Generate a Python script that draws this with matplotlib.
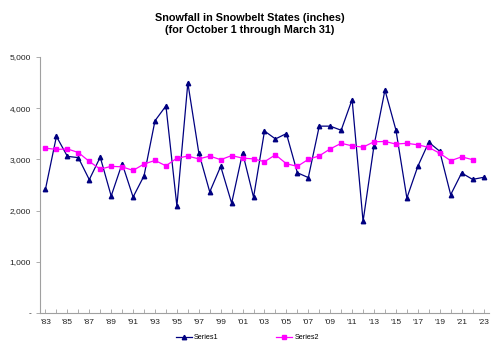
import matplotlib.pyplot as plt
from matplotlib.ticker import FuncFormatter, MultipleLocator

# data
years = list(range(1983, 2024))
series1 = [2420, 3450, 3060, 3035, 2605, 3045, 2285, 2920, 2265, 2680,
           3755, 4045, 2090, 4495, 3130, 2365, 2865, 2145, 3130, 2260,
           3555, 3400, 3505, 2740, 2645, 3650, 3650, 3570, 4170, 1790,
           3270, 4355, 3575, 2245, 2865, 3335, 3160, 2310, 2735, 2610,
           2650]
years2 = list(range(1983, 2023))
series2 = [3220, 3195, 3205, 3135, 2960, 2810, 2865, 2855, 2785, 2910,
           2980, 2875, 3025, 3065, 3010, 3065, 2995, 3075, 3025, 3010,
           2955, 3090, 2915, 2865, 3000, 3070, 3205, 3315, 3265, 3240,
           3345, 3350, 3300, 3315, 3285, 3235, 3120, 2975, 3050, 2995]

plt.rcParams['font.family'] = ['Liberation Sans', 'DejaVu Sans']

fig = plt.figure(figsize=(5, 3.61), dpi=100)
ax = fig.add_axes([0.08, 0.133, 0.898, 0.709])

ax.plot(years, series1, color='#000080', lw=0.9, marker='^', ms=3.2,
        label='Series1')
ax.plot(years2, series2, color='#FF00FF', lw=0.9, marker='s', ms=3.2,
        label='Series2')

ax.set_xlim(1982.5, 2023.5)
ax.set_ylim(0, 5000)
ax.yaxis.set_major_locator(MultipleLocator(1000))
ax.yaxis.set_major_formatter(FuncFormatter(
    lambda v, p: '-' if v == 0 else f'{int(v):,}'))
ax.set_xticks(years[::2])
ax.set_xticklabels(["'%02d" % (y % 100) for y in years[::2]])
ax.set_xticks(years, minor=True)

for s in ['top', 'right']:
    ax.spines[s].set_visible(False)
for s in ['left', 'bottom']:
    ax.spines[s].set_color('#a0a0a0')
    ax.spines[s].set_linewidth(0.8)
ax.tick_params(axis='both', which='both', colors='#a0a0a0', labelcolor='#222222',
               labelsize=6, length=3, width=0.6)
ax.tick_params(axis='x', which='both', direction='in', pad=4)

fig.suptitle('Snowfall in Snowbelt States (inches)\n(for October 1 through March 31)',
             x=0.5, y=0.965, fontsize=7.8, fontweight='bold', linespacing=1.25)

fig.legend(loc='center', bbox_to_anchor=(0.495, 0.064), ncol=2, frameon=False,
           fontsize=5.2, handlelength=2.2, columnspacing=8, handletextpad=0.3)

fig.savefig('out.png', dpi=100)
